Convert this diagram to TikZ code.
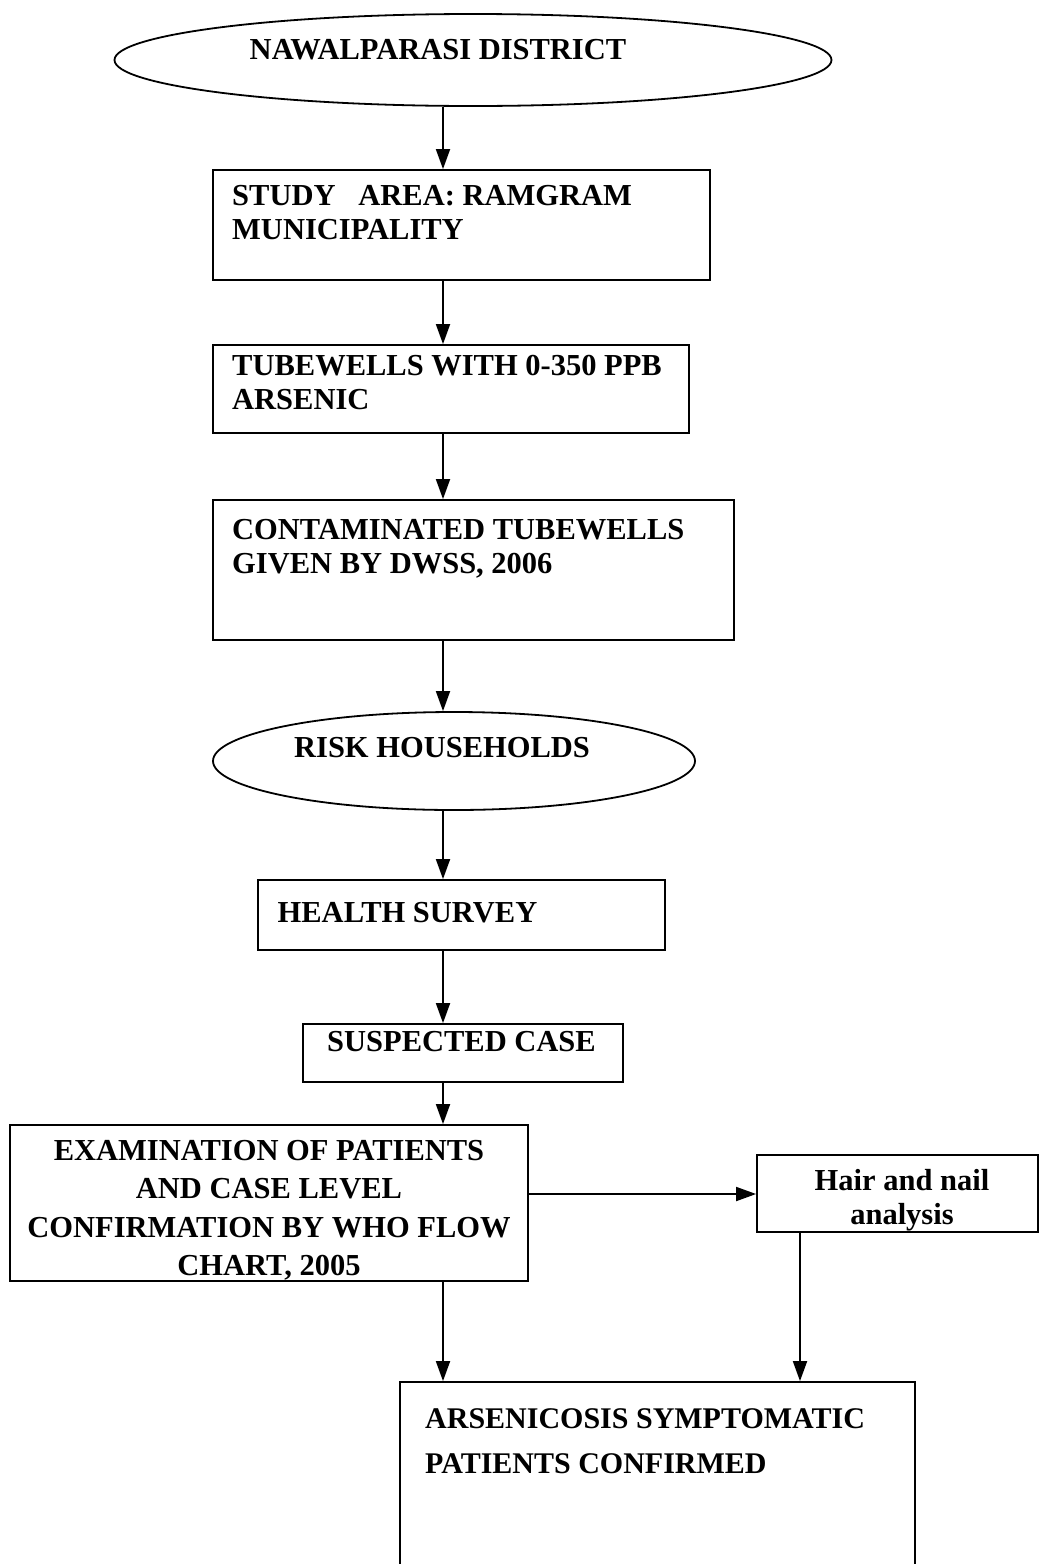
\documentclass[tikz,border=0pt]{standalone}
\usepackage{fontspec}
\setmainfont{Liberation Serif}
\usetikzlibrary{arrows.meta,shapes.geometric}
\begin{document}
\begin{tikzpicture}[x=1pt,y=-1pt,
  box/.style={draw,line width=1.8pt,rectangle,inner sep=0pt},
  oval/.style={draw,line width=1.8pt,ellipse,inner sep=0pt},
  lbl/.style={inner sep=0pt,font=\fontsize{30.5}{34}\selectfont\bfseries},
  arr/.style={line width=1.8pt,-{Triangle[width=14pt,length=20pt]}}]
\useasboundingbox (0,0) rectangle (1039,1564);
\clip (0,0) rectangle (1039,1564);
\fill[white] (0,0) rectangle (1039,1564);
\coordinate (col) at (443,0);
\coordinate (col2) at (800,0);
\coordinate (row) at (0,1194);
% shapes
\node[oval,minimum width=717pt,minimum height=92pt] (e1) at (473,60) {};
\node[box,minimum width=497pt,minimum height=110pt] (b2) at (461.5,225) {};
\node[box,minimum width=476pt,minimum height=88pt] (b3) at (451,389) {};
\node[box,minimum width=521pt,minimum height=140pt] (b4) at (473.5,570) {};
\node[oval,minimum width=482pt,minimum height=98pt] (e2) at (454,761) {};
\node[box,minimum width=407pt,minimum height=70pt] (b5) at (461.5,915) {};
\node[box,minimum width=320pt,minimum height=58pt] (b6) at (463,1053) {};
\node[box,minimum width=518pt,minimum height=156pt] (b7) at (269,1203) {};
\node[box,minimum width=281pt,minimum height=77pt] (b8) at (897.5,1193.5) {};
\node[box,minimum width=515pt,minimum height=193pt] (b9) at (657.5,1478.5) {};
% texts
\node[lbl] (t1) at (438,50) {NAWALPARASI DISTRICT};
\node[lbl,anchor=north west,align=left] (t2) at (232,185) {STUDY\ \ \ AREA: RAMGRAM\\MUNICIPALITY};
\node[lbl,anchor=north west,align=left] (t3) at (232,355) {TUBEWELLS WITH 0-350 PPB\\ARSENIC};
\node[lbl,anchor=north west,align=left] (t4) at (232,519) {CONTAMINATED TUBEWELLS\\GIVEN BY DWSS, 2006};
\node[lbl] (t5) at (442,748) {RISK HOUSEHOLDS};
\node[lbl] (t6) at (407.5,913) {HEALTH SURVEY};
\node[lbl] (t7) at (461.5,1042) {SUSPECTED CASE};
\node[lbl,font=\fontsize{30.5}{38.5}\selectfont\bfseries,anchor=north,align=center] (t8) at (269,1140) {EXAMINATION OF PATIENTS\\AND CASE LEVEL\\CONFIRMATION BY WHO FLOW\\CHART, 2005};
\node[lbl,anchor=north,align=center] (t9) at (902,1169) {Hair and nail\\analysis};
\node[lbl,font=\fontsize{30}{45}\selectfont\bfseries,anchor=north west,align=left] (t10) at (425,1408) {ARSENICOSIS SYMPTOMATIC\\PATIENTS CONFIRMED};
% connectors
\draw[arr] (e1.south -| col) -- (b2.north -| col);
\draw[arr] (b2.south -| col) -- (b3.north -| col);
\draw[arr] (b3.south -| col) -- (b4.north -| col);
\draw[arr] (b4.south -| col) -- (e2.north -| col);
\draw[arr] (e2.south -| col) -- (b5.north -| col);
\draw[arr] (b5.south -| col) -- (b6.north -| col);
\draw[arr] (b6.south -| col) -- (b7.north -| col);
\draw[arr] (b7.east |- row) -- (b8.west |- row);
\draw[arr] (b7.south -| col) -- (b9.north -| col);
\draw[arr] (b8.south -| col2) -- (b9.north -| col2);
\end{tikzpicture}
\end{document}
